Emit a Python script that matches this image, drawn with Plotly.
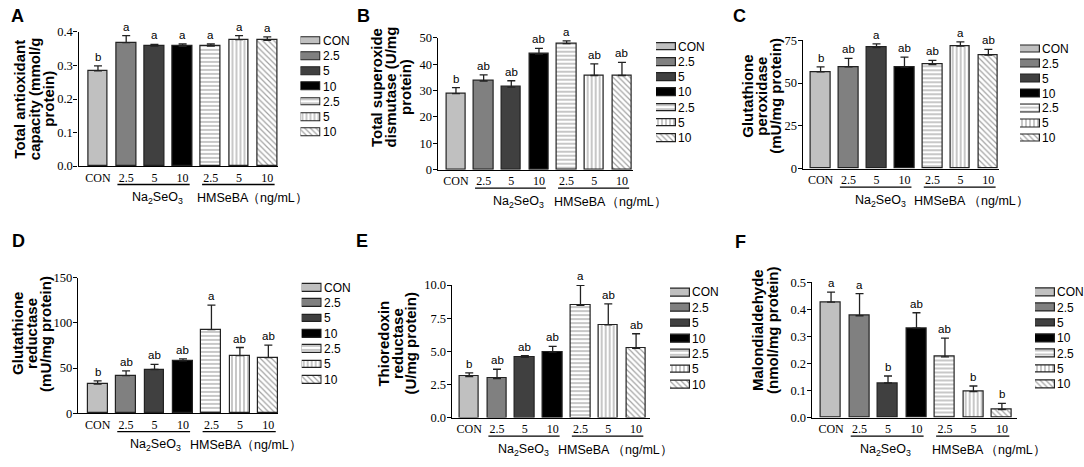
import plotly.graph_objects as go

W, H = 1084, 467

groups = ["CON", "2.5", "5", "10", "2.5", "5", "10"]
group_labels = ["Na<sub>2</sub>SeO<sub>3</sub>", "HMSeBA", "（ng/mL）"]

# A - total antioxidant capacity
tac_mean = [0.284, 0.368, 0.358, 0.357, 0.358, 0.377, 0.375]
tac_err = [0.015, 0.021, 0.005, 0.007, 0.006, 0.012, 0.010]
tac_sig = ["b", "a", "a", "a", "a", "a", "a"]
tac_title = ["Total antioxidant", "capacity (mmol/g", "protein)"]

# B - total superoxide dismutase
sod_mean = [28.8, 33.6, 31.3, 43.8, 47.8, 35.7, 35.7]
sod_err = [2.3, 2.3, 2.4, 2.2, 1.0, 4.4, 5.0]
sod_sig = ["b", "ab", "ab", "ab", "a", "ab", "ab"]
sod_title = ["Total superoxide", "dismutase (U/mg", "protein)"]

# C - glutathione peroxidase
gpx_mean = [56.5, 59.5, 70.7, 59.3, 60.8, 71.6, 66.3]
gpx_err = [3.0, 4.9, 2.2, 5.9, 2.5, 2.5, 3.4]
gpx_sig = ["b", "ab", "a", "ab", "ab", "a", "ab"]
gpx_title = ["Glutathione", "peroxidase", "(mU/mg protein)"]

# D - glutathione reductase
gr_mean = [32.3, 41.6, 48.4, 58.1, 92.6, 63.9, 61.7]
gr_err = [3.6, 5.4, 5.8, 2.2, 27.2, 8.9, 13.7]
gr_sig = ["b", "ab", "ab", "ab", "a", "ab", "ab"]
gr_title = ["Glutathione", "reductase", "(mU/mg protein)"]

# E - thioredoxin reductase
trxr_mean = [3.10, 2.95, 4.55, 4.94, 8.48, 7.00, 5.23]
trxr_err = [0.27, 0.70, 0.12, 0.44, 1.50, 1.58, 1.10]
trxr_sig = ["b", "ab", "ab", "ab", "a", "ab", "ab"]
trxr_title = ["Thioredoxin", "reductase", "(U/mg protein)"]

# F - malondialdehyde
mda_mean = [0.427, 0.377, 0.128, 0.331, 0.225, 0.096, 0.030]
mda_err = [0.037, 0.082, 0.026, 0.057, 0.069, 0.021, 0.023]
mda_sig = ["a", "a", "b", "ab", "ab", "b", "b"]
mda_title = ["Malondialdehyde", "(nmol/mg protein)"]

bar_fill = ["#c0c0c0", "#808080", "#404040", "#000000", "#ffffff", "#ffffff", "#ffffff"]
hatch = ["", "", "", "", "-", "|", "\\"]

SANS = "Liberation Sans, Arial, sans-serif"
SERIF = "Liberation Serif, Times New Roman, serif"

# geometry in pixels: box = (x0, x1, ytop, ybottom)
panels = [
    dict(key="A", mean=tac_mean, err=tac_err, sig=tac_sig, title=tac_title,
         ymax=0.4, dtick=0.1, fmt=".1f", box=(78.5, 278, 25.7, 164), xr=(-0.69, 6.38),
         tx=(19.5, 34, 48.5), ty=95, lt=(17, 9), leg=(300.5, 35, 15.7), lab=(130, 195, 245)),
    dict(key="B", mean=sod_mean, err=sod_err, sig=sod_sig, title=sod_title,
         ymax=50, dtick=10, fmt="d", box=(437.7, 633.3, 31.7, 167.7), xr=(-0.66, 6.41),
         tx=(376.5, 391, 405.5), ty=83, lt=(363, 9), leg=(656, 41, 15.67), lab=(491, 552, 604)),
    dict(key="C", mean=gpx_mean, err=gpx_err, sig=gpx_sig, title=gpx_title,
         ymax=75, dtick=25, fmt="d", box=(802.7, 998.7, 34.3, 166.7), xr=(-0.64, 6.37),
         tx=(747.5, 761.5, 775.5), ty=92, lt=(739, 9), leg=(1020, 43.3, 15.3), lab=(853, 912, 966)),
    dict(key="D", mean=gr_mean, err=gr_err, sig=gr_sig, title=gr_title,
         ymax=150, dtick=50, fmt="d", box=(78, 278.3, 279.3, 418.7), xr=(-0.69, 6.35),
         tx=(18, 32, 46), ty=337, lt=(18.5, 241), leg=(301.7, 289.3, 15.83), lab=(128, 188, 239)),
    dict(key="E", mean=trxr_mean, err=trxr_err, sig=trxr_sig, title=trxr_title,
         ymax=10, dtick=2.5, fmt=".1f", box=(451.7, 650, 286.7, 423.3), xr=(-0.63, 6.5),
         tx=(384, 397.5, 411), ty=347, lt=(362, 241), leg=(670, 294.3, 15.83), lab=(496, 556, 610)),
    dict(key="F", mean=mda_mean, err=mda_err, sig=mda_sig, title=mda_title,
         ymax=0.5, dtick=0.1, fmt=".1f", box=(811.7, 1016.7, 284, 423.3), xr=(-0.68, 6.52),
         tx=(757, 772), ty=333, lt=(740, 242.5), leg=(1035, 294, 15.83), lab=(858, 930, 983)),
]


def fx(v):
    return v / W


def fy(v):
    return 1 - v / H


fig = go.Figure()
annotations = []
shapes = []
layout = {}

marker_style = dict(
    color=bar_fill,
    line=dict(color="#222222", width=1.2),
    pattern=dict(shape=hatch, fgcolor="#555555", bgcolor="#ffffff", size=4, solidity=0.3),
)

for i, p in enumerate(panels):
    n = i + 1
    m = i + 7
    x0, x1, yt, yb = p["box"]
    cats = list(range(len(groups)))

    fig.add_trace(go.Bar(
        x=cats, y=p["mean"], width=0.7, marker=marker_style,
        error_y=dict(type="data", symmetric=False, array=p["err"], arrayminus=[0] * 7,
                     color="#222222", thickness=1.3, width=4),
        xaxis=f"x{n}", yaxis=f"y{n}", showlegend=False, hoverinfo="skip",
    ))

    layout[f"xaxis{n}"] = dict(
        domain=[fx(x0), fx(x1)], range=list(p["xr"]), anchor=f"y{n}",
        tickmode="array", tickvals=cats, ticktext=groups,
        tickfont=dict(family=SERIF, size=12, color="black"),
        ticks="",
        showline=True, linecolor="black", linewidth=1.3,
        showgrid=False, zeroline=False, fixedrange=True,
    )
    layout[f"yaxis{n}"] = dict(
        domain=[fy(yb), fy(yt)], range=[0, p["ymax"]], anchor=f"x{n}",
        dtick=p["dtick"], tick0=0, tickformat=p["fmt"],
        tickfont=dict(family=SERIF, size=12.5, color="black"),
        ticks="outside", ticklen=4, tickwidth=1.3, tickcolor="black",
        ticklabelstandoff=-2,
        showline=True, linecolor="black", linewidth=1.3,
        showgrid=False, zeroline=False, fixedrange=True,
    )

    # significance letters
    for c, (v, e, s) in enumerate(zip(p["mean"], p["err"], p["sig"])):
        annotations.append(dict(
            x=c, y=v + e, xref=f"x{n}", yref=f"y{n}", text=s, showarrow=False,
            yanchor="bottom", yshift=1, font=dict(family=SANS, size=11.5, color="black"),
        ))

    # axis title, one annotation per line for tight spacing
    for tx, line in zip(p["tx"], p["title"]):
        annotations.append(dict(
            x=fx(tx), y=fy(p["ty"]), xref="paper", yref="paper", text=f"<b>{line}</b>",
            textangle=-90, showarrow=False, xanchor="center", yanchor="middle",
            font=dict(family=SANS, size=15, color="black"),
        ))

    # panel letter
    annotations.append(dict(
        x=fx(p["lt"][0]), y=fy(p["lt"][1]), xref="paper", yref="paper", text=f"<b>{p['key']}</b>",
        showarrow=False, xanchor="center", yanchor="middle",
        font=dict(family=SANS, size=18, color="black"),
    ))

    # group underlines
    for a, b in [(0.69, 3.25), (3.69, 6.26)]:
        shapes.append(dict(
            type="line", xref=f"x{n}", yref="paper", x0=a, x1=b,
            y0=fy(yb + 19), y1=fy(yb + 19), line=dict(color="black", width=1.3),
        ))

    # group labels
    for lx, txt in zip(p["lab"], group_labels):
        annotations.append(dict(
            x=fx(lx), y=fy(yb + 33), xref="paper", yref="paper", text=txt,
            showarrow=False, xanchor="left", yanchor="middle",
            font=dict(family=SANS, size=12.5, color="black"),
        ))

    # legend drawn as a small horizontal bar chart
    lx, ly, sp = p["leg"]
    fig.add_trace(go.Bar(
        x=[1] * 7, y=cats, base=0, orientation="h", width=8 / sp, marker=marker_style,
        xaxis=f"x{m}", yaxis=f"y{m}", showlegend=False, hoverinfo="skip",
    ))
    layout[f"xaxis{m}"] = dict(domain=[fx(lx), fx(lx + 20)], range=[0, 1], anchor=f"y{m}",
                               visible=False, fixedrange=True)
    layout[f"yaxis{m}"] = dict(domain=[fy(ly + 6.5 * sp), fy(ly - 0.5 * sp)], range=[6.5, -0.5],
                               anchor=f"x{m}", visible=False, fixedrange=True)
    for c, g in enumerate(groups):
        annotations.append(dict(
            x=1, y=c, xref=f"x{m}", yref=f"y{m}", text=g, showarrow=False,
            xanchor="left", yanchor="middle", xshift=0,
            font=dict(family=SANS, size=12, color="black"),
        ))

fig.update_layout(
    width=W, height=H, autosize=False,
    margin=dict(l=0, r=0, t=0, b=0),
    plot_bgcolor="white", paper_bgcolor="white",
    showlegend=False, annotations=annotations, shapes=shapes,
    bargap=0, **layout,
)

# page body margin would shift the fixed-size figure
fig.write_html("out.html", config={"displayModeBar": False},
               post_script="document.body.style.margin='0';")
